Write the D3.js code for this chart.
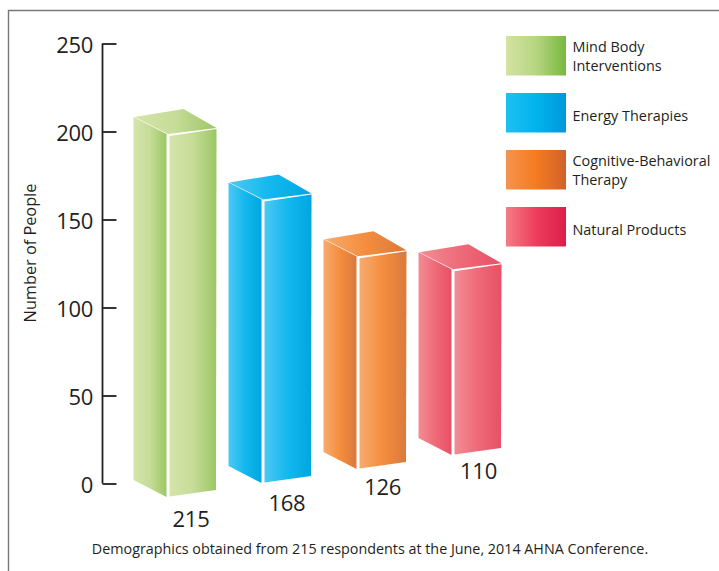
<!DOCTYPE html>
<html>
<head>
<meta charset="utf-8">
<script src="https://cdn.jsdelivr.net/npm/d3@7"></script>
<style>
html,body{margin:0;padding:0;background:#fff}
svg{display:block}
text{font-family:"Open Sans",sans-serif;fill:#231f20}
</style>
</head>
<body>
<svg id="chart" width="719" height="571"></svg>
<script>
const categories = ["Mind Body Interventions", "Energy Therapies", "Cognitive-Behavioral Therapy", "Natural Products"];
const values = [215, 168, 126, 110];
const axisTicks = [0, 50, 100, 150, 200, 250];
const legendLabels = [["Mind Body", "Interventions"], ["Energy Therapies"], ["Cognitive-Behavioral", "Therapy"], ["Natural Products"]];
const barStops = [["#d5e4aa", "#c6dc98", "#9bc763"], ["#4dc8f3", "#12b8ee", "#00a6df"], ["#f8ab6e", "#f48d3e", "#d97a3c"], ["#f28d93", "#ee6a78", "#e65165"]];
const swatchStops = [["#d3e3a4", "#b7d580", "#78b941"], ["#1fc0f2", "#00b4ec", "#0098da"], ["#f5944f", "#f47b20", "#d2612b"], ["#f37d85", "#ee3d5c", "#dc1e4a"]];
const footnote = "Demographics obtained from 215 respondents at the June, 2014 AHNA Conference.";

const svg = d3.select("#chart");
const defs = svg.append("defs");

function addGradient(id, stops) {
  const g = defs.append("linearGradient").attr("id", id).attr("x1", 0).attr("x2", 1).attr("y1", 0).attr("y2", 0);
  g.selectAll("stop").data(stops).join("stop")
    .attr("offset", (d, i) => i / (stops.length - 1))
    .attr("stop-color", d => d);
}
barStops.forEach((s, i) => addGradient("bar" + i, s));
swatchStops.forEach((s, i) => addGradient("swatch" + i, s));

// Page frame: only the top and left rules are drawn
svg.append("path").attr("d", "M719,10.5H8.5V571").attr("fill", "none").attr("stroke", "#77787b").attr("stroke-width", 1.4);

// Value axis
const yAxisScale = d3.scaleLinear().domain([0, 250]).range([483.5, 43.5]);
const axis = svg.append("g").attr("transform", "translate(102.5,0)")
  .call(d3.axisRight(yAxisScale).tickValues(axisTicks).tickSize(14).tickFormat(""));
axis.selectAll("path,line").attr("stroke", "#231f20").attr("stroke-width", 1.8);
axis.select(".domain").attr("d", `M0,${yAxisScale(250)}V${yAxisScale(0)}`);

svg.append("g").selectAll("text").data(axisTicks).join("text")
  .attr("x", 93).attr("y", d => yAxisScale(d) + 9)
  .attr("text-anchor", "end").attr("font-size", 22).attr("letter-spacing", -0.3)
  .text(d => d);

svg.append("text")
  .attr("transform", "translate(36,253) rotate(-90)")
  .attr("text-anchor", "middle").attr("font-size", 16.3).text("Number of People");

// The bars stand on a floor that rises to the right, in an oblique projection
const xLeft = d3.scalePoint().domain(categories).range([133.5, 418.5]);
const floor = d3.scalePoint().domain(categories).range([480, 438]);
const barHeight = d3.scaleLinear().domain([0, 250]).range([0, 422]);

const bars = svg.append("g").selectAll("g").data(categories).join("g")
  .datum((d, i) => {
    const h = barHeight(values[i]);
    return { i, x: xLeft(d), base: floor(d), top: floor(d) - h };
  });

const line = d3.line();
// left face
bars.append("path")
  .attr("d", d => line([[d.x, d.top], [d.x + 33, d.top + 17], [d.x + 33, d.base + 17], [d.x, d.base]]) + "Z")
  .attr("fill", d => `url(#bar${d.i})`);
// right face
bars.append("path")
  .attr("d", d => line([[d.x + 36, d.top + 19], [d.x + 83, d.top + 12], [d.x + 82.5, d.base + 10], [d.x + 36, d.base + 16.5]]) + "Z")
  .attr("fill", d => `url(#bar${d.i})`);
// top face
bars.append("path")
  .attr("d", d => line([[d.x + 1, d.top], [d.x + 50, d.top - 8], [d.x + 83, d.top + 11], [d.x + 34.5, d.top + 17]]) + "Z")
  .attr("fill", d => `url(#bar${d.i})`);

// Value labels beneath each bar
const labelAnchor = d3.scalePoint().domain(categories).range([191, 478.5]);
const labelBase = d3.scalePoint().domain(categories).range([527, 479]);
svg.append("g").selectAll("text").data(categories).join("text")
  .attr("x", d => labelAnchor(d)).attr("y", d => labelBase(d))
  .attr("text-anchor", "middle").attr("font-size", 22).attr("letter-spacing", -0.3)
  .text((d, i) => values[i]);

// Legend
const legendY = d3.scalePoint().domain(categories).range([36, 207]);
const legend = svg.append("g").selectAll("g").data(categories).join("g")
  .attr("transform", d => `translate(506,${legendY(d)})`);
legend.append("rect").attr("width", 60).attr("height", 39.5).attr("fill", (d, i) => `url(#swatch${i})`);
legend.each(function (d, i) {
  const lines = legendLabels[i];
  d3.select(this).selectAll("text").data(lines).join("text")
    .attr("x", 66.5)
    .attr("y", (t, k) => (lines.length === 1 ? 28 : 16 + k * 19))
    .attr("font-size", 14.4)
    .text(t => t);
});

svg.append("text").attr("x", 370).attr("y", 554).attr("text-anchor", "middle")
  .attr("font-size", 14.33).text(footnote);
</script>
</body>
</html>
